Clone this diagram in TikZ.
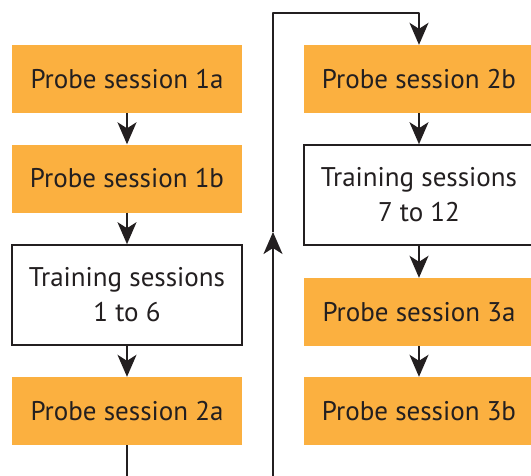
\documentclass[tikz,border=0pt]{standalone}
\usepackage{fontspec}
\setmainfont{PT Sans}
\usetikzlibrary{arrows.meta}
\definecolor{probe}{RGB}{251,176,64}
\definecolor{ink}{RGB}{35,31,32}
\tikzset{
  box/.style={minimum width=230pt, inner sep=0pt, align=center, text=ink,
    font=\fontsize{27}{35}\selectfont},
  probebox/.style={box, fill=probe, minimum height=68pt},
  trainbox/.style={box, fill=white, draw=ink, line width=1.6pt, minimum height=100pt},
  flow/.style={draw=ink, line width=1.8pt, line join=round,
    -{Stealth[length=22pt, width=19pt, inset=6pt]}},
}
\begin{document}
\begin{tikzpicture}[x=1pt, y=-1pt]
\useasboundingbox (0,0) rectangle (531,475);
\clip (0,0) rectangle (531,475);
% left column
\node[probebox] (p1a) at (127,79) {Probe session 1a};
\node[probebox] (p1b) at (127,178.5) {Probe session 1b};
\node[trainbox] (t1) at (127,295) {Training sessions\\1 to 6};
\node[probebox] (p2a) at (127,411) {Probe session 2a};
% right column
\node[probebox] (p2b) at (419,79) {Probe session 2b};
\node[trainbox] (t2) at (419,195) {Training sessions\\7 to 12};
\node[probebox] (p3a) at (419,312) {Probe session 3a};
\node[probebox] (p3b) at (419,411) {Probe session 3b};
% loop from the left column back to the top of the right one
\coordinate (b1) at (127,520);
\coordinate (b2) at (273,520);
\coordinate (mid) at (273,232);
\coordinate (c1) at (273,13);
\coordinate (c2) at (419,13);
% connectors
\draw[flow] (p1a) -- (p1b);
\draw[flow] (p1b) -- (t1);
\draw[flow] (t1) -- (p2a);
\draw[flow] (p2a.south) -- (b1) -- (b2) -- (mid);
\draw[flow] (mid) -- (c1) -- (c2) -- (p2b.north);
\draw[flow] (p2b) -- (t2);
\draw[flow] (t2) -- (p3a);
\draw[flow] (p3a) -- (p3b);
\end{tikzpicture}
\end{document}
